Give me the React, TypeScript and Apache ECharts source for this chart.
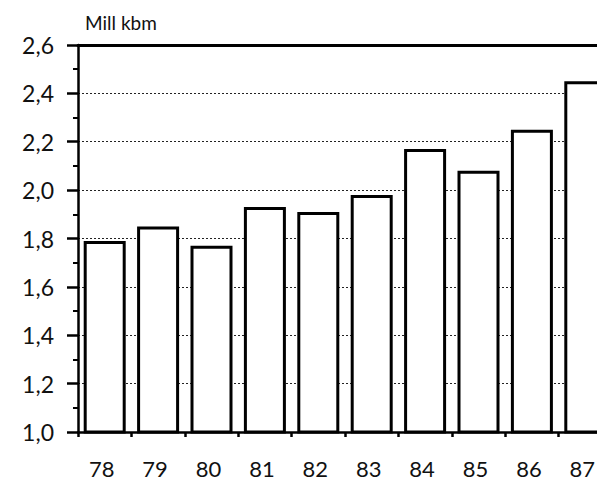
import React, { useEffect, useRef } from "react";
import * as echarts from "echarts";

const years = ["78", "79", "80", "81", "82", "83", "84", "85", "86", "87"];
const volumes = [1.79, 1.85, 1.77, 1.93, 1.91, 1.98, 2.17, 2.08, 2.25, 2.45];
const unitLabel = "Mill kbm";
const yMin = 1.0;
const yMax = 2.6;
const yStep = 0.2;

const FONT = "Lato";

export default function App() {
  const ref = useRef<HTMLDivElement>(null);
  useEffect(() => {
    if (!ref.current) return;
    const chart = echarts.init(ref.current, null, { renderer: "svg" });
    chart.setOption({
      animation: false,
      backgroundColor: "#ffffff",
      title: {
        text: unitLabel,
        left: 80,
        top: 8,
        textStyle: { fontFamily: FONT, fontSize: 19, fontWeight: "normal", color: "#111" },
      },
      grid: { left: 78, top: 45, width: 534, bottom: 48, containLabel: false },
      xAxis: [
        {
          type: "category",
          data: years,
          position: "bottom",
          boundaryGap: true,
          axisLine: { show: true, lineStyle: { color: "#000", width: 2.5 } },
          axisTick: { show: true, length: 5, inside: false, lineStyle: { color: "#000", width: 2.5 } },
          axisLabel: {
            fontFamily: FONT,
            fontSize: 22,
            color: "#111",
            margin: 25,
            padding: [0, 6, 0, 0],
          },
          splitLine: { show: false },
        },
        {
          type: "category",
          data: years,
          position: "top",
          axisLine: { show: true, lineStyle: { color: "#000", width: 3 } },
          axisTick: { show: false },
          axisLabel: { show: false },
          splitLine: { show: false },
        },
      ],
      yAxis: {
        type: "value",
        min: yMin,
        max: yMax,
        interval: yStep,
        axisLine: { show: true, lineStyle: { color: "#000", width: 2.5 } },
        axisTick: { show: true, length: 11, lineStyle: { color: "#000", width: 2.5 } },
        minorTick: { show: true, splitNumber: 2, length: 5, lineStyle: { color: "#000", width: 2 } },
        axisLabel: {
          fontFamily: FONT,
          fontSize: 23,
          color: "#111",
          margin: 24,
          formatter: (v: number) => v.toFixed(1).replace(".", ","),
        },
        splitLine: { show: true, lineStyle: { color: "#222", width: 1, type: [2, 2] } },
      },
      series: [
        {
          type: "bar",
          data: volumes,
          barWidth: 42,
          itemStyle: { color: "#ffffff", borderColor: "#000", borderWidth: 3 },
          z: 3,
        },
      ],
    });
    return () => chart.dispose();
  }, []);
  return (
    <div style={{ position: "fixed", left: 0, top: 0, width: 597, height: 480, overflow: "hidden", background: "#fff" }}>
      <div ref={ref} style={{ width: 640, height: 480 }} />
    </div>
  );
}
